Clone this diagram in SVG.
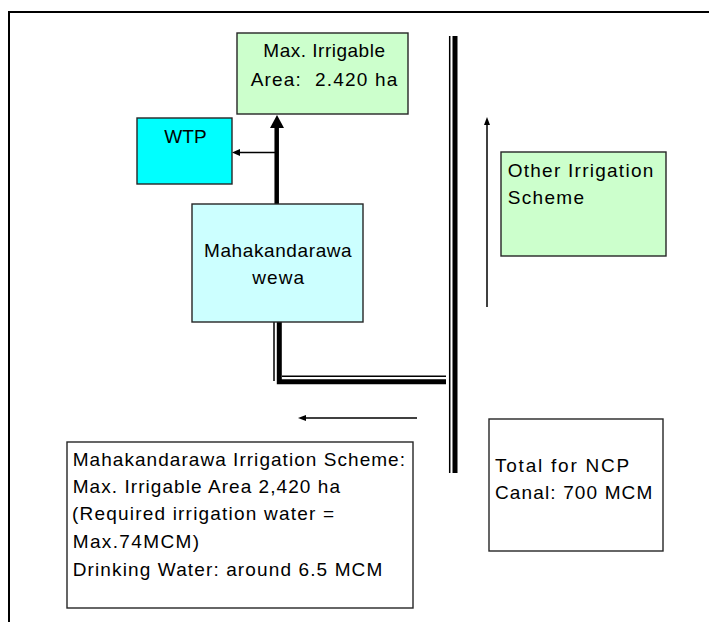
<svg xmlns="http://www.w3.org/2000/svg" width="709" height="622" viewBox="0 0 709 622">
<style>
.box{stroke:#262626;stroke-width:1.4}
.t{font-family:"Liberation Sans",Arial,sans-serif;font-size:19px;fill:#000;white-space:pre}
.thin{stroke:#000;stroke-width:1.5;fill:none}
.thick{stroke:#000;stroke-width:5;fill:none}
</style>
<rect x="9" y="12" width="730" height="650" fill="#fff" stroke="#000" stroke-width="2"/>
<g id="connectors">
  <line class="thick" x1="276.7" y1="204" x2="276.7" y2="126" style="stroke-width:4.5"/>
  <polygon points="270,128 284,128 277,115" fill="#000"/>
  <line class="thin" x1="276" y1="152.5" x2="238" y2="152.5"/>
  <polygon points="240,149 240,156 232,152.5" fill="#000"/>
  <line class="thin" x1="449.7" y1="36" x2="449.7" y2="473"/>
  <line class="thick" x1="455" y1="36" x2="455" y2="473"/>
  <line class="thin" x1="274" y1="321" x2="274" y2="381"/>
  <polyline class="thick" points="279.3,320 279.3,381.8 446,381.8" style="stroke-linejoin:miter"/>
  <line class="thin" x1="282" y1="376.3" x2="446" y2="376.3"/>
  <line class="thin" x1="487" y1="307" x2="487" y2="124"/>
  <polygon points="484,125 490,125 487,117" fill="#000"/>
  <line class="thin" x1="417" y1="418" x2="305" y2="418"/>
  <polygon points="306,415 306,421 298,418" fill="#000"/>
</g>
<g id="max-irrigable">
  <rect class="box" x="237" y="33" width="171" height="81" fill="#CCFFCC"/>
  <text class="t" x="263.3" y="57" textLength="121.7" lengthAdjust="spacing">Max. Irrigable</text>
  <text class="t" x="250.7" y="86" textLength="146.6" lengthAdjust="spacing">Area:  2.420 ha</text>
</g>
<g id="wtp">
  <rect class="box" x="137" y="118" width="95" height="66" fill="#00FFFF"/>
  <text class="t" x="164.3" y="143" textLength="42.4" lengthAdjust="spacing">WTP</text>
</g>
<g id="mahakandarawa-wewa">
  <rect class="box" x="192" y="204" width="171" height="118" fill="#CCFFFF"/>
  <text class="t" x="204" y="257" textLength="147.7" lengthAdjust="spacing">Mahakandarawa</text>
  <text class="t" x="252.3" y="284" textLength="51.7" lengthAdjust="spacing">wewa</text>
</g>
<g id="other-irrigation">
  <rect class="box" x="501" y="152" width="165" height="104" fill="#CCFFCC"/>
  <text class="t" x="507.7" y="177" textLength="145.6" lengthAdjust="spacing">Other Irrigation</text>
  <text class="t" x="507.7" y="204" textLength="76.3" lengthAdjust="spacing">Scheme</text>
</g>
<g id="total-ncp">
  <rect class="box" x="489" y="419" width="174" height="132" fill="#fff"/>
  <text class="t" x="495" y="472" textLength="134.3" lengthAdjust="spacing">Total for NCP</text>
  <text class="t" x="495" y="499" textLength="157.3" lengthAdjust="spacing">Canal: 700 MCM</text>
</g>
<g id="scheme-info">
  <rect class="box" x="67" y="442" width="346" height="166" fill="#fff"/>
  <text class="t" x="72.7" y="466" textLength="332.3" lengthAdjust="spacing">Mahakandarawa Irrigation Scheme:</text>
  <text class="t" x="72.7" y="493" textLength="267.3" lengthAdjust="spacing">Max. Irrigable Area 2,420 ha</text>
  <text class="t" x="72" y="520" textLength="262" lengthAdjust="spacing">(Required irrigation water =</text>
  <text class="t" x="72.7" y="548" textLength="126.3" lengthAdjust="spacing">Max.74MCM)</text>
  <text class="t" x="72.7" y="576" textLength="309.6" lengthAdjust="spacing">Drinking Water: around 6.5 MCM</text>
</g>
</svg>
